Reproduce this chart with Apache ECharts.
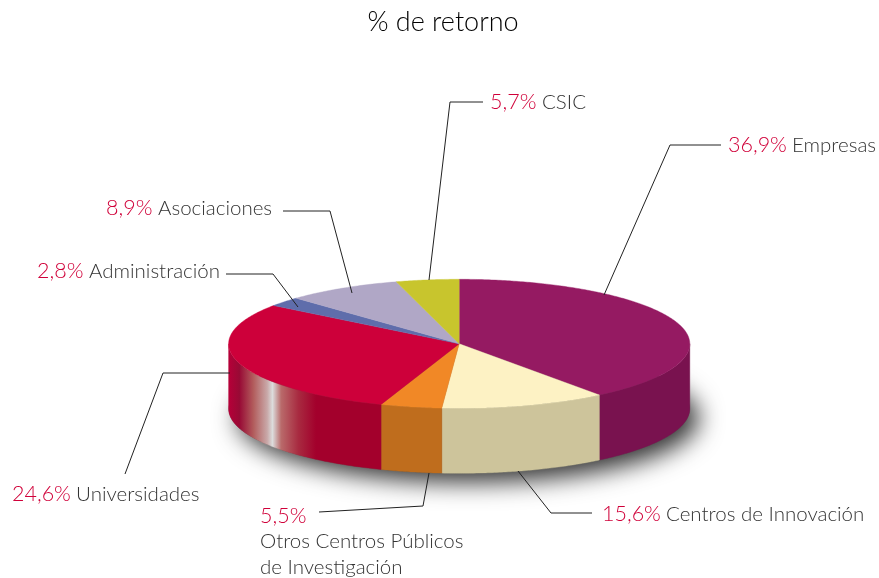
<!DOCTYPE html>
<html><head><meta charset="utf-8">
<style>html,body{margin:0;padding:0;background:#fff}#c{width:879px;height:578px}</style>
<script src="https://cdn.jsdelivr.net/npm/echarts@6/dist/echarts.min.js"></script>
</head><body><div id="c"></div>
<script>
// Printed labels, clockwise from the top
var categories = ['Empresas','Centros de Innovación','Otros Centros Públicos\nde Investigación','Universidades','Administración','Asociaciones','CSIC'];
var labelPercent = [36.9,15.6,5.5,24.6,2.8,8.9,5.7];
// Share of the ellipse each wedge visibly occupies in the picture (the artwork is not drawn strictly to the printed numbers)
var wedgeShare = [39.6,11.6,4.3,29.6,2.4,8.1,4.4];
var topColors = ['#951a62','#fdf2c4','#f18826','#cd003a','#5f6dab','#b0a7c6','#c8c52d'];
var sideColors = ['#79124f','#cdc49b','#bf6d1d','#a3002c','#4a5588','#8a8399','#9c9a22'];

var CX=459.2, CY=343.8, RX=230.6, RY=64.5, DEPTH=65;
var FONT='Lato, "Noto Sans", sans-serif';
// label layout: [value x, name x, value y, name y]
var labelLayout=[[728,792,145,145],[602,666,514,514],[260,260,516,541],[12,76,494,494],[37,89,271,271],[106,158,208,208],[490,542,102,102]];
var leaderPaths=[
 [[721,145],[670,145],[604,295]],
 [[592,513],[551,513],[518,471]],
 [[319,512],[423,506],[429,473]],
 [[230,373],[163,373],[125,474]],
 [[226,274],[273,274],[298,307]],
 [[283,211],[330,211],[352,293]],
 [[483,102],[450,102],[429,280]]
];
var starts=[],acc=0;
wedgeShare.forEach(function(v){starts.push(acc);acc+=v;});
function pt(t,dy){return [CX+RX*Math.sin(t),CY-RY*Math.cos(t)+(dy||0)];}
function arc(a,b,dy){var n=Math.max(2,Math.ceil(Math.abs(b-a)/0.01)),r=[];for(var i=0;i<=n;i++)r.push(pt(a+(b-a)*i/n,dy));return r;}
var TAU=Math.PI*2;
var uniGrad=new echarts.graphic.LinearGradient(229,0,316,0,[
 {offset:0,color:'#b50038'},{offset:.12,color:'#980a35'},{offset:.28,color:'#b25c5c'},{offset:.44,color:'#c9a9a9'},{offset:.5,color:'#dcdcdc'},
 {offset:.6,color:'#b96a6a'},{offset:.8,color:'#a82a40'},{offset:1,color:'#a3002c'}],true);

function seriesData(){return wedgeShare.map(function(v,i){return [starts[i],v,labelPercent[i],i];});}

var option={
 animation:false,
 backgroundColor:'#fff',
 title:{text:'% de retorno',left:438,top:4,textAlign:'center',textStyle:{fontFamily:FONT,fontWeight:300,fontSize:27,color:'#000'}},
 series:[
 {type:'custom',coordinateSystem:'none',silent:true,z:1,data:[[0]],renderItem:function(){
   return {type:'polygon',shape:{points:arc(0,TAU,DEPTH)},style:{fill:'#555',shadowBlur:24,shadowColor:'rgba(0,0,0,.8)',shadowOffsetX:9,shadowOffsetY:9}};
 }},
 {type:'custom',coordinateSystem:'none',silent:true,z:2,data:seriesData(),renderItem:function(p,api){
   var a=api.value(0)/100*TAU,b=a+api.value(1)/100*TAU,i=api.value(3);
   a=Math.max(a,Math.PI/2);b=Math.min(b,Math.PI*1.5);
   if(b<=a) return {type:'group',children:[]};
   var pts=arc(a,b,0).concat(arc(b,a,DEPTH));
   var c=i===3?uniGrad:sideColors[i];
   return {type:'polygon',shape:{points:pts},style:{fill:c,stroke:c,lineWidth:.4}};
 }},
 {type:'custom',coordinateSystem:'none',silent:true,z:3,data:seriesData(),renderItem:function(p,api){
   var a=api.value(0)/100*TAU,b=a+api.value(1)/100*TAU,i=api.value(3);
   var pts=[[CX,CY]].concat(arc(a,b,0));
   return {type:'polygon',shape:{points:pts},style:{fill:topColors[i],stroke:topColors[i],lineWidth:.4}};
 }},
 {type:'custom',coordinateSystem:'none',silent:true,z:4,data:seriesData(),renderItem:function(p,api){
   var i=api.value(3),L=labelLayout[i],path=leaderPaths[i];
   var valueText=String(api.value(2)).replace('.',',')+'%';
   var kids=[
    {type:'polyline',shape:{points:path},style:{fill:null,stroke:'#222',lineWidth:1}},
    {type:'text',style:{text:valueText,x:L[0],y:L[2],verticalAlign:'middle',fill:'#d00039',fontFamily:FONT,fontWeight:300,fontSize:21.5}}
   ];
   categories[i].split('\n').forEach(function(s,k){
     kids.push({type:'text',style:{text:s,x:L[1],y:L[3]+k*26,verticalAlign:'middle',fill:'#333',fontFamily:FONT,fontWeight:300,fontSize:20.5}});
   });
   return {type:'group',children:kids};
 }}
 ]
};
echarts.init(document.getElementById('c'),null,{renderer:'canvas'}).setOption(option);
</script></body></html>
